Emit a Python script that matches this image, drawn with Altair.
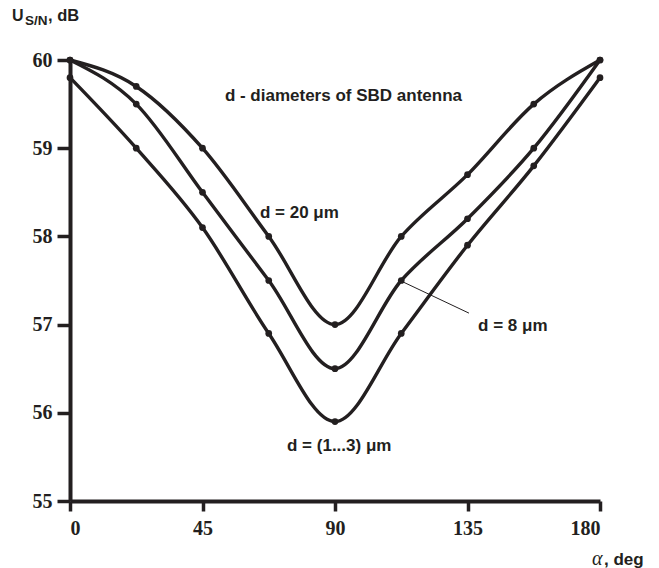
import altair as alt
import pandas as pd

# ---- data ----
angles = [0, 22.5, 45, 67.5, 90, 112.5, 135, 157.5, 180]
d20 = [60.0, 59.7, 59.0, 58.0, 57.0, 58.0, 58.7, 59.5, 60.0]
d8 = [60.0, 59.5, 58.5, 57.5, 56.5, 57.5, 58.2, 59.0, 60.0]
d1_3 = [59.8, 59.0, 58.1, 56.9, 55.9, 56.9, 57.9, 58.8, 59.8]
series_names = ["d = 20 μm", "d = 8 μm", "d = (1...3) μm"]

x_ticks = [0, 45, 90, 135, 180]
y_ticks = [55, 56, 57, 58, 59, 60]

ann_text = ["d - diameters of SBD antenna", "d = 20 μm", "d = 8 μm", "d = (1...3) μm"]
ann_x = [52.6, 64.5, 138.6, 73.7]
ann_y = [59.59, 58.27, 56.98, 55.62]

leader_x = [112.7]
leader_y = [57.49]
leader_x2 = [135.5]
leader_y2 = [57.13]

INK = "#231f20"
SANS = "Liberation Sans"
SERIF = "Liberation Serif"

rows = []
for name, vals in zip(series_names, [d20, d8, d1_3]):
    for a, v in zip(angles, vals):
        rows.append({"series": name, "angle": a, "value": v})
df = pd.DataFrame(rows)

xs = alt.Scale(domain=[0, 180], nice=False, zero=False)
ys = alt.Scale(domain=[55, 60], nice=False, zero=False)

base = alt.Chart(df)
lines = base.mark_line(interpolate="monotone", strokeWidth=3.4, color=INK).encode(
    x=alt.X("angle:Q", scale=xs,
            axis=alt.Axis(values=x_ticks, title=None, tickSize=10, labelPadding=7, format="d")),
    y=alt.Y("value:Q", scale=ys,
            axis=alt.Axis(values=y_ticks, title=None, tickSize=13, labelPadding=5, format="d")),
    detail="series:N",
)
points = base.mark_circle(size=45, opacity=1, color=INK).encode(
    x=alt.X("angle:Q", scale=xs),
    y=alt.Y("value:Q", scale=ys),
    detail="series:N",
)

leader_df = pd.DataFrame({"x": leader_x, "y": leader_y, "x2": leader_x2, "y2": leader_y2})
leader = alt.Chart(leader_df).mark_rule(color=INK, strokeWidth=1).encode(
    x=alt.X("x:Q", scale=xs), y=alt.Y("y:Q", scale=ys), x2="x2:Q", y2="y2:Q"
)

ann_df = pd.DataFrame({"t": ann_text, "x": ann_x, "y": ann_y})
ann = alt.Chart(ann_df).mark_text(
    align="left", baseline="middle", font=SANS, fontWeight="bold", fontSize=17, color=INK
).encode(x=alt.X("x:Q", scale=xs), y=alt.Y("y:Q", scale=ys), text="t:N")


def ptext(txt, x, y, size, font=SANS, weight="bold", style="normal"):
    return alt.Chart(pd.DataFrame({"t": [txt]})).mark_text(
        align="left", baseline="middle", font=font, fontWeight=weight, fontStyle=style,
        fontSize=size, color=INK
    ).encode(x=alt.value(x), y=alt.value(y), text="t:N")


titles = [
    ptext("U", -58, -44, 16),
    ptext("S/N", -45, -39, 13.5),
    ptext(", dB", -22, -44, 16.5),
    ptext("α", 522, 499, 20, font=SERIF, weight="normal", style="italic"),
    ptext(", deg", 534, 500, 17),
]

chart = alt.layer(lines, points, leader, ann, *titles).properties(
    width=530, height=441,
    autosize=alt.AutoSizeParams(type="none"),
    padding={"left": 70, "top": 60, "right": 59, "bottom": 67},
).configure_view(stroke=None).configure_axis(
    grid=False,
    domainWidth=4, domainColor=INK,
    tickWidth=3.5, tickColor=INK,
    labelFont=SERIF, labelFontWeight="bold", labelFontSize=20, labelColor=INK,
)

chart.save("out.html", embed_options={"renderer": "svg", "actions": False})
